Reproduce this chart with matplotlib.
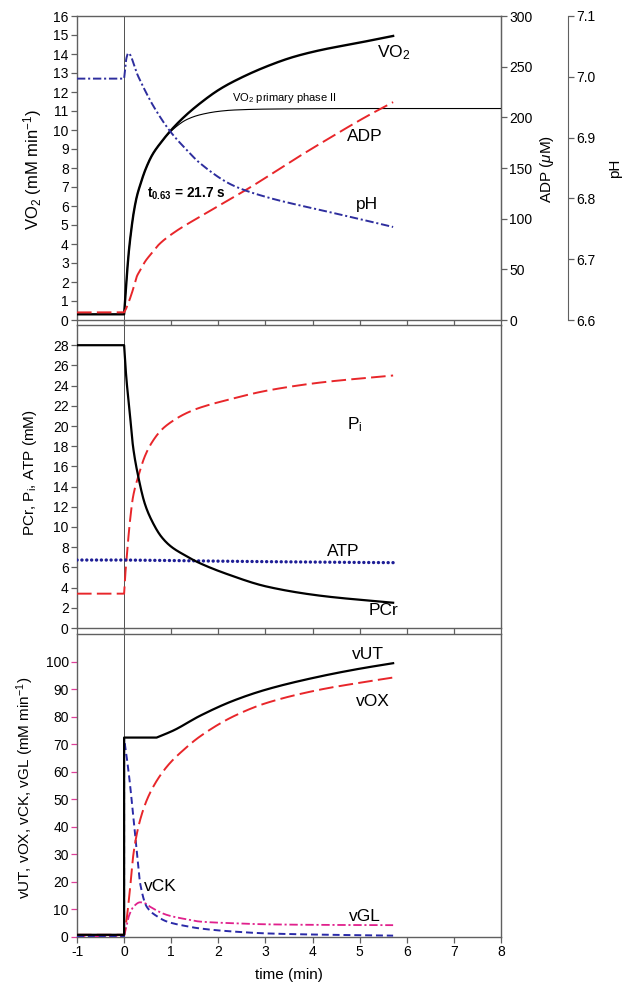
import matplotlib
matplotlib.use("Agg")
import matplotlib.pyplot as plt
import numpy as np

plt.rcParams['font.family'] = ['Liberation Sans', 'DejaVu Sans']
plt.rcParams['mathtext.fontset'] = 'custom'
plt.rcParams['mathtext.rm'] = 'Liberation Sans'
plt.rcParams['mathtext.it'] = 'Liberation Sans:italic'
plt.rcParams['mathtext.bf'] = 'Liberation Sans:bold'
plt.rcParams['lines.scale_dashes'] = False

# ---------------- data ----------------
# top panel
t_vo2 = [-1, 0, 0.03, 0.06, 0.1, 0.15, 0.2, 0.27, 0.34, 0.45, 0.6, 0.8, 1.0, 1.3, 1.61, 2.0, 2.32, 3.03, 3.6, 4.16, 5.0, 5.71]
vo2 = [0.3, 0.3, 1.3, 2.4, 3.6, 4.7, 5.6, 6.5, 7.1, 7.9, 8.7, 9.4, 10.0, 10.75, 11.4, 12.1, 12.55, 13.35, 13.85, 14.2, 14.6, 14.95]
t_ph2 = [0, 0.03, 0.06, 0.1, 0.15, 0.2, 0.27, 0.34, 0.45, 0.6, 0.8, 1.0, 1.33, 1.61, 2.0, 2.32, 3.0, 4.0, 5.0, 8.0]
vo2_phase2 = [0.3, 1.3, 2.4, 3.6, 4.7, 5.6, 6.5, 7.1, 7.9, 8.7, 9.4, 9.95, 10.55, 10.8, 10.98, 11.05, 11.1, 11.12, 11.13, 11.13]
t_adp = [-1, 0, 0.03, 0.1, 0.16, 0.22, 0.27, 0.34, 0.45, 0.55, 0.75, 1.05, 1.61, 2.68, 3.7, 4.16, 5.15, 5.71]
adp = [7.5, 7.5, 10, 18, 26, 35, 43, 49, 58, 64, 75, 86, 102, 131, 161, 174, 201, 215]
t_ph = [-1, 0, 0.02, 0.05, 0.09, 0.13, 0.2, 0.27, 0.34, 0.48, 0.62, 0.98, 1.3, 1.61, 2.32, 3.03, 3.7, 4.16, 5.0, 5.71]
ph = [6.997, 6.997, 7.012, 7.031, 7.039, 7.036, 7.022, 7.006, 6.994, 6.972, 6.952, 6.910, 6.882, 6.858, 6.821, 6.802, 6.789, 6.781, 6.766, 6.753]

# middle panel
t_mid = [-1, 0, 0.02, 0.05, 0.12, 0.19, 0.30, 0.44, 0.58, 0.79, 1.0, 1.29, 1.57, 2.21, 3.03, 4.16, 5.71]
pcr = [28, 28, 26.5, 24.6, 21.3, 17.95, 15.0, 12.3, 10.7, 9.04, 8.05, 7.2, 6.5, 5.3, 4.1, 3.2, 2.5]
pi_ = [3.4, 3.4, 5.0, 6.7, 10.4, 13.0, 15.0, 17.0, 18.3, 19.6, 20.4, 21.2, 21.75, 22.6, 23.5, 24.3, 25.0]
t_atp = [-1, 0, 1, 2, 3, 4, 5, 5.71]
atp = [6.73, 6.73, 6.68, 6.62, 6.57, 6.53, 6.49, 6.47]

# bottom panel
t_vut = [-1, 0, 0, 0.69, 1.05, 1.61, 2.32, 3.03, 4.16, 5.0, 5.71]
vut = [0.8, 0.8, 72.4, 72.4, 75.0, 80.3, 85.8, 89.9, 94.6, 97.4, 99.4]
t_vox = [-1, 0, 0.05, 0.13, 0.2, 0.34, 0.55, 0.91, 1.3, 1.61, 2.32, 3.03, 4.16, 5.0, 5.71]
vox = [0.8, 0.8, 6, 18.3, 30.4, 42.5, 52.3, 61.9, 68.5, 72.8, 80.1, 85, 89.8, 92.3, 94.2]
t_vck = [-1, 0, 0, 0.05, 0.13, 0.2, 0.27, 0.34, 0.48, 0.7, 0.91, 1.3, 1.61, 2.3, 3.03, 4.0, 5.71]
vck = [0.3, 0.3, 72, 66, 54.7, 42.5, 30.4, 19.5, 11.0, 7.5, 5.6, 4.0, 3.1, 2.0, 1.3, 0.9, 0.5]
t_vgl = [-1, 0, 0.05, 0.1, 0.2, 0.34, 0.45, 0.55, 0.91, 1.3, 1.61, 2.3, 3.03, 4.16, 5.71]
vgl = [0.3, 0.3, 4, 7.5, 11, 12.6, 12.2, 11.0, 8.0, 6.5, 5.6, 5.0, 4.6, 4.4, 4.3]

x_ticks = [-1, 0, 1, 2, 3, 4, 5, 6, 7, 8]


# ---------- smooth rendering through the read points (monotone cubic) ----------
def _pchip_seg(x, y, n=60):
    x = np.asarray(x, float)
    y = np.asarray(y, float)
    if len(x) < 3:
        return x, y
    h = np.diff(x)
    d = np.diff(y) / h
    m = np.zeros_like(y)
    for k in range(1, len(x) - 1):
        if d[k - 1] * d[k] > 0:
            w1 = 2 * h[k] + h[k - 1]
            w2 = h[k] + 2 * h[k - 1]
            m[k] = (w1 + w2) / (w1 / d[k - 1] + w2 / d[k])
    m[0] = d[0]
    m[-1] = d[-1]
    xs, ys = [], []
    for k in range(len(x) - 1):
        s = np.linspace(0, 1, n, endpoint=(k == len(x) - 2))
        hk = h[k]
        h00 = 2 * s**3 - 3 * s**2 + 1
        h10 = s**3 - 2 * s**2 + s
        h01 = -2 * s**3 + 3 * s**2
        h11 = s**3 - s**2
        xs.append(x[k] + s * hk)
        ys.append(h00 * y[k] + h10 * hk * m[k] + h01 * y[k + 1] + h11 * hk * m[k + 1])
    return np.concatenate(xs), np.concatenate(ys)


def smooth(x, y, flat_until=0.0):
    """Split at vertical jumps and at corners, smooth each piece."""
    x = list(x)
    y = list(y)
    pieces = []
    start = 0
    for i in range(1, len(x)):
        if x[i] == x[i - 1]:
            pieces.append((start, i))
            start = i
        elif x[i - 1] == flat_until and i - 1 > start:
            pieces.append((start, i))
            start = i - 1
    pieces.append((start, len(x)))
    X, Y = [], []
    for a, b in pieces:
        xs, ys = _pchip_seg(x[a:b], y[a:b])
        X.append(xs)
        Y.append(ys)
    return np.concatenate(X), np.concatenate(Y)


# ---------------- styles ----------------
RED = '#e8262a'
BLUE = '#2e2e9e'
MAG = '#e0208c'
SPINE = '#606060'
FS_TICK = 10
FS_LAB = 11
FS_ANN = 12.5
LONG_DASH = (10.5, 3.8)

W, H = 629, 986
fig = plt.figure(figsize=(W / 100, H / 100), dpi=100)


def frac(left, top, right, bottom):
    return [left / W, 1 - bottom / H, (right - left) / W, (bottom - top) / H]


ax1 = fig.add_axes(frac(77, 16, 501, 320))
ax2 = fig.add_axes(frac(77, 325, 501, 628))
ax3 = fig.add_axes(frac(77, 634, 501, 937))

for ax in (ax1, ax2, ax3):
    ax.set_xlim(-1, 8)
    ax.set_xticks(x_ticks)
    for s in ax.spines.values():
        s.set_color(SPINE)
        s.set_linewidth(1.0)
    ax.tick_params(axis='both', direction='out', length=4, width=0.9,
                   color=SPINE, labelsize=FS_TICK, pad=2)
    ax.tick_params(axis='x', top=False)
    ax.tick_params(axis='y', right=False)
    ax.axvline(0, color='#505050', lw=0.7, zorder=1)

ax1.tick_params(axis='x', labelbottom=False)
ax2.tick_params(axis='x', labelbottom=False)

# ---- top panel ----
ax1.set_ylim(0, 16)
ax1.set_yticks(range(0, 17))
ax1.plot(*smooth(t_ph2, vo2_phase2), color='black', lw=0.8, zorder=3)
ax1.plot(*smooth(t_vo2, vo2), color='black', lw=1.7, zorder=4)

ax_adp = ax1.twinx()
ax_adp.set_position(ax1.get_position())
ax_adp.set_ylim(0, 300)
ax_adp.set_yticks(range(0, 301, 50))
for k in ('left', 'top', 'bottom'):
    ax_adp.spines[k].set_visible(False)
ax_adp.spines['right'].set_color(SPINE)
ax_adp.tick_params(axis='y', direction='out', length=4, width=0.9, color=SPINE,
                   labelsize=FS_TICK, pad=2)
ax_adp.plot(*smooth(t_adp, adp), color=RED, lw=1.4, dashes=LONG_DASH, zorder=3)

ax_ph = ax1.twinx()
ax_ph.set_position(ax1.get_position())
ax_ph.spines['right'].set_position(('axes', 1 + 67 / 424))
for k in ('left', 'top', 'bottom'):
    ax_ph.spines[k].set_visible(False)
ax_ph.spines['right'].set_color(SPINE)
ax_ph.set_ylim(6.6, 7.1)
ax_ph.set_yticks([6.6, 6.7, 6.8, 6.9, 7.0, 7.1])
ax_ph.set_yticklabels(['6.6', '6.7', '6.8', '6.9', '7.0', '7.1'])
ax_ph.tick_params(axis='y', direction='out', length=4, width=0.9, color=SPINE,
                  labelsize=FS_TICK, pad=2)
ax_ph.plot(*smooth(t_ph, ph), color=BLUE, lw=1.4, dashes=(6, 2, 1.5, 2), zorder=3)

fig.text(33 / W, 1 - 170 / H, r'VO$_2$ (mM min$^{-1}$)', rotation=90,
         ha='center', va='center', fontsize=12)
fig.text(547 / W, 1 - 169 / H, r'ADP ($\mu$M)', rotation=90,
         ha='center', va='center', fontsize=FS_LAB)
fig.text(615 / W, 1 - 168 / H, 'pH', rotation=90,
         ha='center', va='center', fontsize=FS_LAB)

ax1.text(5.73, 14.05, r'VO$_2$', fontsize=FS_ANN, ha='center', va='center')
ax1.text(2.29, 11.68, r'VO$_2$ primary phase II', fontsize=8, ha='left', va='center')
ax1.text(5.10, 9.68, 'ADP', fontsize=FS_ANN, ha='center', va='center')
ax1.text(5.16, 6.1, 'pH', fontsize=FS_ANN, ha='center', va='center')
ax1.text(0.48, 6.63, r'$\mathbf{t_{0.63}}$ = 21.7 s', fontsize=9.8,
         fontweight='bold', ha='left', va='center')

# ---- middle panel ----
ax2.set_ylim(0, 30)
ax2.set_yticks(range(0, 29, 2))
ax2.plot(*smooth(t_mid, pi_), color=RED, lw=1.4, dashes=LONG_DASH, zorder=3)
ax2.plot(t_atp, atp, color='#1e1e96', lw=2.4, linestyle=(0, (0.1, 3.4)),
         dash_capstyle='round', zorder=3)
ax2.plot(*smooth(t_mid, pcr), color='black', lw=1.6, zorder=4)
fig.text(30 / W, 1 - 473 / H, r'PCr, P$_\mathrm{i}$, ATP (mM)', rotation=90,
         ha='center', va='center', fontsize=FS_LAB)
ax2.text(4.73, 20.1, r'P$_\mathrm{i}$', fontsize=FS_ANN, ha='left', va='center')
ax2.text(4.65, 7.6, 'ATP', fontsize=FS_ANN, ha='center', va='center')
ax2.text(5.50, 1.7, 'PCr', fontsize=FS_ANN, ha='center', va='center')

# ---- bottom panel ----
ax3.set_ylim(0, 110)
ax3.set_yticks(range(0, 101, 10))
ax3.tick_params(axis='y', color='#e0409a')
ax3.set_xticklabels([str(v) for v in x_ticks])
ax3.plot(*smooth(t_vgl, vgl), color=MAG, lw=1.3, dashes=(6, 2, 1.5, 2), zorder=3)
ax3.plot(*smooth(t_vck, vck), color='#2a2aa8', lw=1.4, dashes=(5, 2.8), zorder=3)
ax3.plot(*smooth(t_vox, vox), color=RED, lw=1.4, dashes=LONG_DASH, zorder=3)
ax3.plot(*smooth(t_vut, vut, flat_until=0.69), color='black', lw=1.6, zorder=4)
fig.text(25 / W, 1 - 788 / H, r'vUT, vOX, vCK, vGL (mM min$^{-1}$)', rotation=90,
         ha='center', va='center', fontsize=FS_LAB)
fig.text(289 / W, 1 - 975 / H, 'time (min)', ha='center', va='center', fontsize=FS_LAB)
ax3.text(5.17, 102.5, 'vUT', fontsize=FS_ANN, ha='center', va='center')
ax3.text(5.29, 85.6, 'vOX', fontsize=FS_ANN, ha='center', va='center')
ax3.text(0.76, 18.5, 'vCK', fontsize=FS_ANN, ha='center', va='center')
ax3.text(5.12, 7.5, 'vGL', fontsize=FS_ANN, ha='center', va='center')

fig.savefig('out.png', dpi=100)
